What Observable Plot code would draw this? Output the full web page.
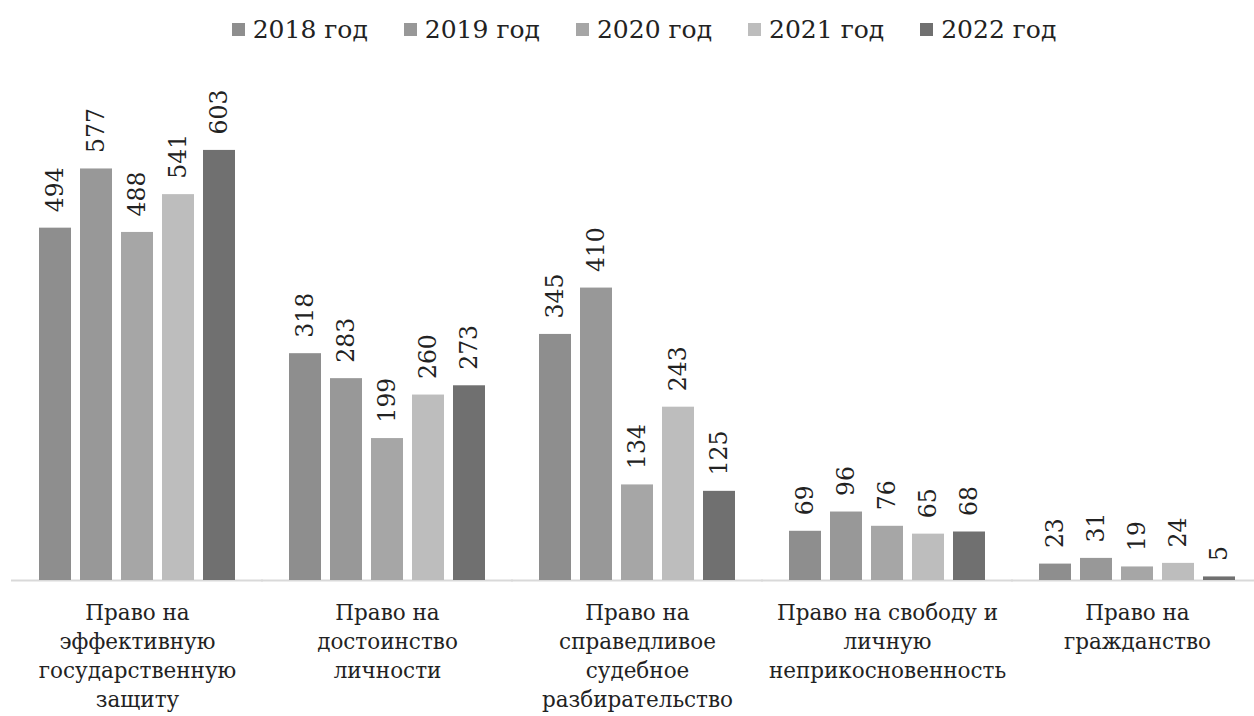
<!DOCTYPE html>
<html>
<head>
<meta charset="utf-8">
<script src="https://cdn.jsdelivr.net/npm/d3@7"></script>
<script src="https://cdn.jsdelivr.net/npm/@observablehq/plot@0.6"></script>
<style>
  html, body { margin: 0; padding: 0; background: #fff; }
  body { width: 1254px; height: 716px; overflow: hidden; font-family: 'DejaVu Serif', serif; }
  #legend { height: 70px; display: flex; justify-content: center; align-items: center; gap: 36px; box-sizing: border-box; padding-left: 34px; padding-bottom: 12px; }
  .item { display: flex; align-items: center; font-size: 25px; color: #222; white-space: nowrap; }
  .sw { width: 13px; height: 13px; margin-right: 8px; }
  svg text { font-family: 'DejaVu Serif', serif; }
</style>
</head>
<body>
<div id="legend"></div>
<div id="chart"></div>
<script>
const categories = [
  "Право на\nэффективную\nгосударственную\nзащиту",
  "Право на\nдостоинство\nличности",
  "Право на\nсправедливое\nсудебное\nразбирательство",
  "Право на свободу и\nличную\nнеприкосновенность",
  "Право на\nгражданство"
];
const years = ["2018 год", "2019 год", "2020 год", "2021 год", "2022 год"];
const colors = ["#8e8e8e", "#989898", "#a6a6a6", "#bdbdbd", "#707070"];
const values2018 = [494, 318, 345, 69, 23];
const values2019 = [577, 283, 410, 96, 31];
const values2020 = [488, 199, 134, 76, 19];
const values2021 = [541, 260, 243, 65, 24];
const values2022 = [603, 273, 125, 68, 5];

const series = [values2018, values2019, values2020, values2021, values2022];
const data = [];
categories.forEach((c, i) => {
  years.forEach((y, j) => data.push({cat: c, year: y, value: series[j][i]}));
});

const legend = document.getElementById("legend");
years.forEach((y, j) => {
  const it = document.createElement("div");
  it.className = "item";
  it.innerHTML = `<span class="sw" style="background:${colors[j]}"></span><span>${y}</span>`;
  legend.appendChild(it);
});

const chart = Plot.plot({
  width: 1254,
  height: 646,
  marginLeft: 20,
  marginRight: 0,
  marginTop: 20,
  marginBottom: 136,
  style: {fontFamily: "'DejaVu Serif', serif", background: "#fff", color: "#222"},
  fx: {domain: categories, paddingInner: 0.2, paddingOuter: 0.064, label: null},
  x: {domain: years, paddingInner: 0.21, paddingOuter: 0, axis: null},
  y: {domain: [0, 687], axis: null},
  color: {domain: years, range: colors},
  marks: [
    Plot.ruleY([0], {stroke: "#d9d9d9", strokeWidth: 2, insetLeft: -26, insetRight: -26}),
    Plot.barY(data, {fx: "cat", x: "year", y: "value", fill: "year"}),
    Plot.text(data, {fx: "cat", x: "year", y: "value", text: d => String(d.value), rotate: -90, textAnchor: "start", dy: -16, fontSize: 23.5, fill: "#222"}),
    Plot.axisFx({anchor: "bottom", tickSize: 0, tickPadding: 19, fontSize: 21.5, lineHeight: 1.35, label: null, fill: "#222"})
  ]
});
document.getElementById("chart").appendChild(chart);
</script>
</body>
</html>
